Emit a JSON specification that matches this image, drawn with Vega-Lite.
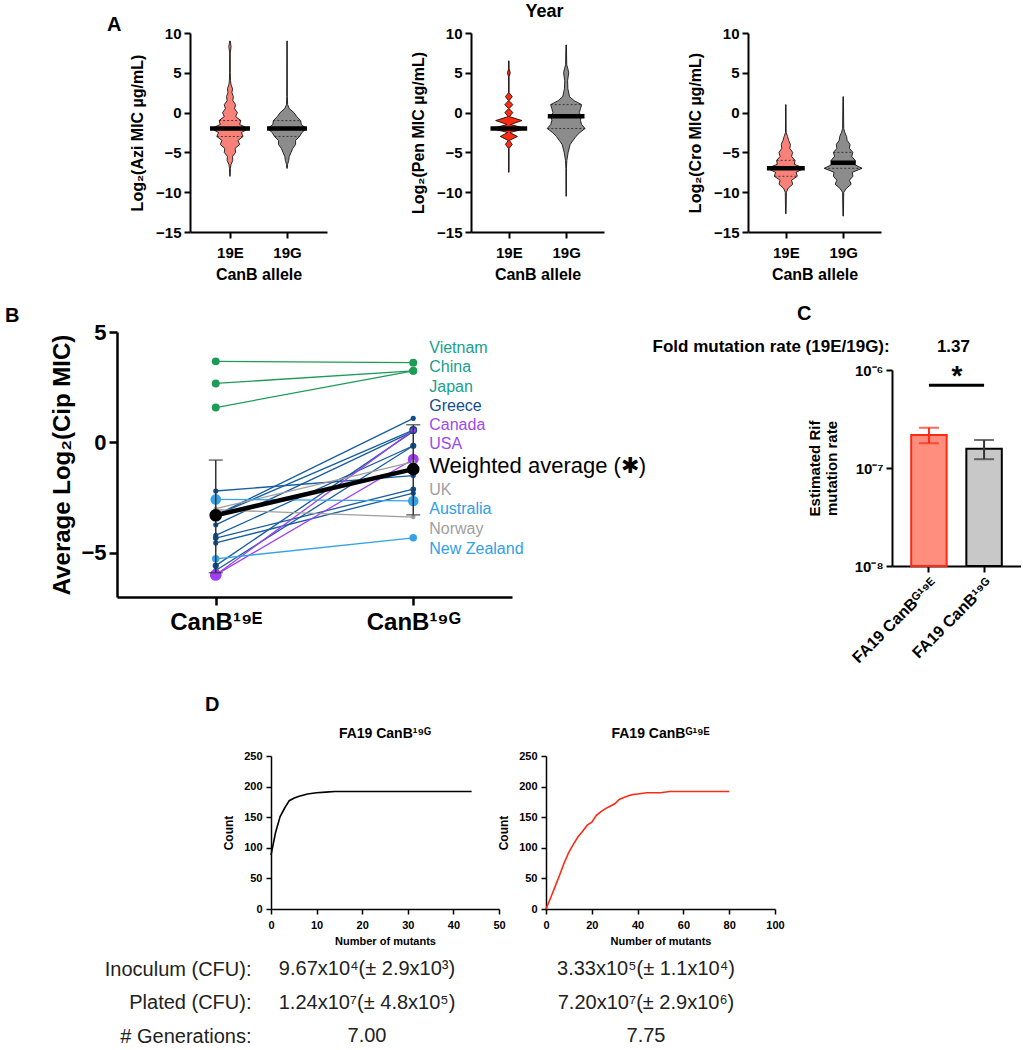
{
  "$schema": "https://vega.github.io/schema/vega-lite/v6.json",
  "background": "white",
  "padding": {"left": 5, "top": 3, "right": 0, "bottom": 0},
  "autosize": {"type": "pad"},
  "config": {
    "font": "Liberation Sans",
    "view": {"stroke": null},
    "axis": {"grid": false, "labelFontWeight": "bold", "titleFontWeight": "bold", "domainColor": "black", "tickColor": "black", "labelColor": "black", "titleColor": "black", "labelFlush": false, "labelOverlap": false, "labelFont": "Liberation Sans", "titleFont": "Liberation Sans"},
    "title": {"fontWeight": "bold", "color": "black", "font": "Liberation Sans"}
  },
  "datasets": {
    "violin": [
      {"p":"Azi","a":"19E","y":-8,"lo":-0.004,"hi":0.004},
      {"p":"Azi","a":"19E","y":-7,"lo":-0.008,"hi":0.008},
      {"p":"Azi","a":"19E","y":-6.5,"lo":-0.02,"hi":0.02},
      {"p":"Azi","a":"19E","y":-6,"lo":-0.05,"hi":0.05},
      {"p":"Azi","a":"19E","y":-5.5,"lo":-0.045,"hi":0.045},
      {"p":"Azi","a":"19E","y":-5,"lo":-0.1,"hi":0.1},
      {"p":"Azi","a":"19E","y":-4.5,"lo":-0.09,"hi":0.09},
      {"p":"Azi","a":"19E","y":-4,"lo":-0.17,"hi":0.17},
      {"p":"Azi","a":"19E","y":-3.5,"lo":-0.14,"hi":0.14},
      {"p":"Azi","a":"19E","y":-3,"lo":-0.23,"hi":0.23},
      {"p":"Azi","a":"19E","y":-2.5,"lo":-0.2,"hi":0.2},
      {"p":"Azi","a":"19E","y":-2,"lo":-0.33,"hi":0.33},
      {"p":"Azi","a":"19E","y":-1.5,"lo":-0.17,"hi":0.17},
      {"p":"Azi","a":"19E","y":-1,"lo":-0.19,"hi":0.19},
      {"p":"Azi","a":"19E","y":-0.5,"lo":-0.1,"hi":0.1},
      {"p":"Azi","a":"19E","y":0,"lo":-0.13,"hi":0.13},
      {"p":"Azi","a":"19E","y":0.5,"lo":-0.08,"hi":0.08},
      {"p":"Azi","a":"19E","y":1,"lo":-0.1,"hi":0.1},
      {"p":"Azi","a":"19E","y":1.5,"lo":-0.05,"hi":0.05},
      {"p":"Azi","a":"19E","y":2,"lo":-0.06,"hi":0.06},
      {"p":"Azi","a":"19E","y":2.5,"lo":-0.035,"hi":0.035},
      {"p":"Azi","a":"19E","y":3,"lo":-0.045,"hi":0.045},
      {"p":"Azi","a":"19E","y":3.5,"lo":-0.02,"hi":0.02},
      {"p":"Azi","a":"19E","y":4,"lo":-0.01,"hi":0.01},
      {"p":"Azi","a":"19E","y":5,"lo":-0.006,"hi":0.006},
      {"p":"Azi","a":"19E","y":7.5,"lo":-0.006,"hi":0.006},
      {"p":"Azi","a":"19E","y":8.3,"lo":-0.02,"hi":0.02},
      {"p":"Azi","a":"19E","y":9,"lo":-0.004,"hi":0.004},
      {"p":"Azi","a":"19G","y":-7,"lo":0.996,"hi":1.004},
      {"p":"Azi","a":"19G","y":-6.5,"lo":0.99,"hi":1.01},
      {"p":"Azi","a":"19G","y":-6,"lo":0.97,"hi":1.03},
      {"p":"Azi","a":"19G","y":-5.5,"lo":0.96,"hi":1.04},
      {"p":"Azi","a":"19G","y":-5,"lo":0.93,"hi":1.07},
      {"p":"Azi","a":"19G","y":-4.5,"lo":0.9,"hi":1.1},
      {"p":"Azi","a":"19G","y":-4,"lo":0.85,"hi":1.15},
      {"p":"Azi","a":"19G","y":-3.5,"lo":0.85,"hi":1.15},
      {"p":"Azi","a":"19G","y":-3,"lo":0.78,"hi":1.22},
      {"p":"Azi","a":"19G","y":-2.5,"lo":0.74,"hi":1.26},
      {"p":"Azi","a":"19G","y":-2,"lo":0.66,"hi":1.34},
      {"p":"Azi","a":"19G","y":-1.5,"lo":0.75,"hi":1.25},
      {"p":"Azi","a":"19G","y":-1,"lo":0.76,"hi":1.24},
      {"p":"Azi","a":"19G","y":-0.5,"lo":0.83,"hi":1.17},
      {"p":"Azi","a":"19G","y":0,"lo":0.88,"hi":1.12},
      {"p":"Azi","a":"19G","y":0.5,"lo":0.96,"hi":1.04},
      {"p":"Azi","a":"19G","y":1,"lo":0.99,"hi":1.01},
      {"p":"Azi","a":"19G","y":2,"lo":0.995,"hi":1.005},
      {"p":"Azi","a":"19G","y":9,"lo":0.996,"hi":1.004},
      {"p":"Pen","a":"19E","y":-7.5,"lo":-0.004,"hi":0.004},
      {"p":"Pen","a":"19E","y":-4.5,"lo":-0.005,"hi":0.005},
      {"p":"Pen","a":"19E","y":-4,"lo":-0.06,"hi":0.06},
      {"p":"Pen","a":"19E","y":-3.5,"lo":-0.01,"hi":0.01},
      {"p":"Pen","a":"19E","y":-3,"lo":-0.15,"hi":0.15},
      {"p":"Pen","a":"19E","y":-2.5,"lo":-0.02,"hi":0.02},
      {"p":"Pen","a":"19E","y":-2,"lo":-0.3,"hi":0.3},
      {"p":"Pen","a":"19E","y":-1.5,"lo":-0.03,"hi":0.03},
      {"p":"Pen","a":"19E","y":-1,"lo":-0.23,"hi":0.23},
      {"p":"Pen","a":"19E","y":-0.5,"lo":-0.01,"hi":0.01},
      {"p":"Pen","a":"19E","y":0,"lo":-0.07,"hi":0.07},
      {"p":"Pen","a":"19E","y":0.5,"lo":-0.005,"hi":0.005},
      {"p":"Pen","a":"19E","y":1,"lo":-0.07,"hi":0.07},
      {"p":"Pen","a":"19E","y":1.5,"lo":-0.005,"hi":0.005},
      {"p":"Pen","a":"19E","y":2,"lo":-0.06,"hi":0.06},
      {"p":"Pen","a":"19E","y":2.5,"lo":-0.005,"hi":0.005},
      {"p":"Pen","a":"19E","y":4.5,"lo":-0.005,"hi":0.005},
      {"p":"Pen","a":"19E","y":5,"lo":-0.025,"hi":0.025},
      {"p":"Pen","a":"19E","y":5.5,"lo":-0.005,"hi":0.005},
      {"p":"Pen","a":"19E","y":6.5,"lo":-0.004,"hi":0.004},
      {"p":"Pen","a":"19G","y":-10.5,"lo":0.996,"hi":1.004},
      {"p":"Pen","a":"19G","y":-7,"lo":0.995,"hi":1.005},
      {"p":"Pen","a":"19G","y":-6,"lo":0.988,"hi":1.012},
      {"p":"Pen","a":"19G","y":-5,"lo":0.965,"hi":1.035},
      {"p":"Pen","a":"19G","y":-4,"lo":0.93,"hi":1.07},
      {"p":"Pen","a":"19G","y":-3.5,"lo":0.88,"hi":1.12},
      {"p":"Pen","a":"19G","y":-3,"lo":0.83,"hi":1.17},
      {"p":"Pen","a":"19G","y":-2.5,"lo":0.76,"hi":1.24},
      {"p":"Pen","a":"19G","y":-2,"lo":0.67,"hi":1.33},
      {"p":"Pen","a":"19G","y":-1.5,"lo":0.73,"hi":1.27},
      {"p":"Pen","a":"19G","y":-1,"lo":0.75,"hi":1.25},
      {"p":"Pen","a":"19G","y":-0.5,"lo":0.74,"hi":1.26},
      {"p":"Pen","a":"19G","y":0,"lo":0.77,"hi":1.23},
      {"p":"Pen","a":"19G","y":0.5,"lo":0.75,"hi":1.25},
      {"p":"Pen","a":"19G","y":1,"lo":0.73,"hi":1.27},
      {"p":"Pen","a":"19G","y":1.5,"lo":0.86,"hi":1.14},
      {"p":"Pen","a":"19G","y":2,"lo":0.94,"hi":1.06},
      {"p":"Pen","a":"19G","y":3,"lo":0.97,"hi":1.03},
      {"p":"Pen","a":"19G","y":4,"lo":0.975,"hi":1.025},
      {"p":"Pen","a":"19G","y":5,"lo":0.955,"hi":1.045},
      {"p":"Pen","a":"19G","y":5.5,"lo":0.97,"hi":1.03},
      {"p":"Pen","a":"19G","y":6,"lo":0.99,"hi":1.01},
      {"p":"Pen","a":"19G","y":8.5,"lo":0.996,"hi":1.004},
      {"p":"Cro","a":"19E","y":-12.7,"lo":-0.004,"hi":0.004},
      {"p":"Cro","a":"19E","y":-10,"lo":-0.01,"hi":0.01},
      {"p":"Cro","a":"19E","y":-9.5,"lo":-0.04,"hi":0.04},
      {"p":"Cro","a":"19E","y":-9,"lo":-0.12,"hi":0.12},
      {"p":"Cro","a":"19E","y":-8.5,"lo":-0.1,"hi":0.1},
      {"p":"Cro","a":"19E","y":-8,"lo":-0.2,"hi":0.2},
      {"p":"Cro","a":"19E","y":-7.5,"lo":-0.18,"hi":0.18},
      {"p":"Cro","a":"19E","y":-7,"lo":-0.32,"hi":0.32},
      {"p":"Cro","a":"19E","y":-6.5,"lo":-0.15,"hi":0.15},
      {"p":"Cro","a":"19E","y":-6,"lo":-0.16,"hi":0.16},
      {"p":"Cro","a":"19E","y":-5.5,"lo":-0.1,"hi":0.1},
      {"p":"Cro","a":"19E","y":-5,"lo":-0.12,"hi":0.12},
      {"p":"Cro","a":"19E","y":-4.5,"lo":-0.07,"hi":0.07},
      {"p":"Cro","a":"19E","y":-4,"lo":-0.08,"hi":0.08},
      {"p":"Cro","a":"19E","y":-3.5,"lo":-0.05,"hi":0.05},
      {"p":"Cro","a":"19E","y":-3,"lo":-0.03,"hi":0.03},
      {"p":"Cro","a":"19E","y":-2.5,"lo":-0.006,"hi":0.006},
      {"p":"Cro","a":"19E","y":1,"lo":-0.004,"hi":0.004},
      {"p":"Cro","a":"19G","y":-13,"lo":0.996,"hi":1.004},
      {"p":"Cro","a":"19G","y":-10,"lo":0.99,"hi":1.01},
      {"p":"Cro","a":"19G","y":-9.5,"lo":0.94,"hi":1.06},
      {"p":"Cro","a":"19G","y":-9,"lo":0.86,"hi":1.14},
      {"p":"Cro","a":"19G","y":-8.5,"lo":0.89,"hi":1.11},
      {"p":"Cro","a":"19G","y":-8,"lo":0.83,"hi":1.17},
      {"p":"Cro","a":"19G","y":-7.5,"lo":0.84,"hi":1.16},
      {"p":"Cro","a":"19G","y":-7,"lo":0.67,"hi":1.33},
      {"p":"Cro","a":"19G","y":-6.5,"lo":0.81,"hi":1.19},
      {"p":"Cro","a":"19G","y":-6,"lo":0.79,"hi":1.21},
      {"p":"Cro","a":"19G","y":-5.5,"lo":0.85,"hi":1.15},
      {"p":"Cro","a":"19G","y":-5,"lo":0.83,"hi":1.17},
      {"p":"Cro","a":"19G","y":-4.5,"lo":0.89,"hi":1.11},
      {"p":"Cro","a":"19G","y":-4,"lo":0.88,"hi":1.12},
      {"p":"Cro","a":"19G","y":-3.5,"lo":0.93,"hi":1.07},
      {"p":"Cro","a":"19G","y":-3,"lo":0.94,"hi":1.06},
      {"p":"Cro","a":"19G","y":-2.5,"lo":0.97,"hi":1.03},
      {"p":"Cro","a":"19G","y":-2,"lo":0.99,"hi":1.01},
      {"p":"Cro","a":"19G","y":2,"lo":0.996,"hi":1.004}
    ],
    "stats": [
      {"p":"Azi","a":"19E","kind":"median","y":-2,"lo":-0.35,"hi":0.35},
      {"p":"Azi","a":"19E","kind":"q","y":-1,"lo":-0.19,"hi":0.19},
      {"p":"Azi","a":"19E","kind":"q","y":-3,"lo":-0.23,"hi":0.23},
      {"p":"Azi","a":"19G","kind":"median","y":-2,"lo":0.65,"hi":1.35},
      {"p":"Azi","a":"19G","kind":"q","y":-1,"lo":0.76,"hi":1.24},
      {"p":"Azi","a":"19G","kind":"q","y":-3,"lo":0.78,"hi":1.22},
      {"p":"Pen","a":"19E","kind":"median","y":-2,"lo":-0.32,"hi":0.32},
      {"p":"Pen","a":"19G","kind":"median","y":-0.45,"lo":0.68,"hi":1.32},
      {"p":"Pen","a":"19G","kind":"q","y":1,"lo":0.73,"hi":1.27},
      {"p":"Pen","a":"19G","kind":"q","y":-2,"lo":0.67,"hi":1.33},
      {"p":"Cro","a":"19E","kind":"median","y":-7,"lo":-0.33,"hi":0.33},
      {"p":"Cro","a":"19E","kind":"q","y":-6,"lo":-0.16,"hi":0.16},
      {"p":"Cro","a":"19E","kind":"q","y":-8,"lo":-0.2,"hi":0.2},
      {"p":"Cro","a":"19G","kind":"median","y":-6.3,"lo":0.78,"hi":1.22},
      {"p":"Cro","a":"19G","kind":"q","y":-5,"lo":0.83,"hi":1.17},
      {"p":"Cro","a":"19G","kind":"q","y":-7,"lo":0.67,"hi":1.33}
    ],
    "cip": [
      {"id":"a1","cluster":"Asia","allele":"CanB¹⁹ᴱ","value":3.67,"n":45},
      {"id":"a1","cluster":"Asia","allele":"CanB¹⁹ᴳ","value":3.61,"n":45},
      {"id":"a2","cluster":"Asia","allele":"CanB¹⁹ᴱ","value":2.67,"n":45},
      {"id":"a2","cluster":"Asia","allele":"CanB¹⁹ᴳ","value":3.24,"n":45},
      {"id":"a3","cluster":"Asia","allele":"CanB¹⁹ᴱ","value":1.58,"n":45},
      {"id":"a3","cluster":"Asia","allele":"CanB¹⁹ᴳ","value":3.24,"n":45},
      {"id":"e1","cluster":"Europe","allele":"CanB¹⁹ᴱ","value":-2.2,"n":15},
      {"id":"e1","cluster":"Europe","allele":"CanB¹⁹ᴳ","value":-1.5,"n":15},
      {"id":"e2","cluster":"Europe","allele":"CanB¹⁹ᴱ","value":-3.3,"n":15},
      {"id":"e2","cluster":"Europe","allele":"CanB¹⁹ᴳ","value":1.09,"n":15},
      {"id":"e3","cluster":"Europe","allele":"CanB¹⁹ᴱ","value":-3.3,"n":15},
      {"id":"e3","cluster":"Europe","allele":"CanB¹⁹ᴳ","value":0.56,"n":45},
      {"id":"e4","cluster":"Europe","allele":"CanB¹⁹ᴱ","value":-3.73,"n":15},
      {"id":"e4","cluster":"Europe","allele":"CanB¹⁹ᴳ","value":0.5,"n":15},
      {"id":"e5","cluster":"Europe","allele":"CanB¹⁹ᴱ","value":-4.21,"n":15},
      {"id":"e5","cluster":"Europe","allele":"CanB¹⁹ᴳ","value":-0.15,"n":25},
      {"id":"e6","cluster":"Europe","allele":"CanB¹⁹ᴱ","value":-4.33,"n":20},
      {"id":"e6","cluster":"Europe","allele":"CanB¹⁹ᴳ","value":-2.12,"n":20},
      {"id":"e7","cluster":"Europe","allele":"CanB¹⁹ᴱ","value":-4.55,"n":15},
      {"id":"e7","cluster":"Europe","allele":"CanB¹⁹ᴳ","value":-2.3,"n":15},
      {"id":"e8","cluster":"Europe","allele":"CanB¹⁹ᴱ","value":-5.58,"n":25},
      {"id":"e8","cluster":"Europe","allele":"CanB¹⁹ᴳ","value":0.5,"n":15},
      {"id":"e9","cluster":"Europe","allele":"CanB¹⁹ᴱ","value":-5.8,"n":15},
      {"id":"e9","cluster":"Europe","allele":"CanB¹⁹ᴳ","value":-0.15,"n":15},
      {"id":"p1","cluster":"North America","allele":"CanB¹⁹ᴱ","value":-6.0,"n":100},
      {"id":"p1","cluster":"North America","allele":"CanB¹⁹ᴳ","value":0.55,"n":15},
      {"id":"p2","cluster":"North America","allele":"CanB¹⁹ᴱ","value":-6.0,"n":100},
      {"id":"p2","cluster":"North America","allele":"CanB¹⁹ᴳ","value":-0.76,"n":90},
      {"id":"g1","cluster":"UK/Norway","allele":"CanB¹⁹ᴱ","value":-3.0,"n":10},
      {"id":"g1","cluster":"UK/Norway","allele":"CanB¹⁹ᴳ","value":-0.88,"n":10},
      {"id":"g2","cluster":"UK/Norway","allele":"CanB¹⁹ᴱ","value":-3.05,"n":10},
      {"id":"g2","cluster":"UK/Norway","allele":"CanB¹⁹ᴳ","value":-3.38,"n":10},
      {"id":"o1","cluster":"Oceania","allele":"CanB¹⁹ᴱ","value":-2.58,"n":85},
      {"id":"o1","cluster":"Oceania","allele":"CanB¹⁹ᴳ","value":-2.65,"n":85},
      {"id":"o2","cluster":"Oceania","allele":"CanB¹⁹ᴱ","value":-5.27,"n":40},
      {"id":"o2","cluster":"Oceania","allele":"CanB¹⁹ᴳ","value":-4.32,"n":40}
    ],
    "wavg": [
      {"allele":"CanB¹⁹ᴱ","value":-3.3,"lo":-5.9,"hi":-0.8},
      {"allele":"CanB¹⁹ᴳ","value":-1.21,"lo":-3.28,"hi":0.8}
    ],
    "cipLabels": [
      {"label":"Vietnam","cluster":"Asia","value":4.28},
      {"label":"China","cluster":"Asia","value":3.4},
      {"label":"Japan","cluster":"Asia","value":2.52},
      {"label":"Greece","cluster":"Europe","value":1.65},
      {"label":"Canada","cluster":"North America","value":0.77},
      {"label":"USA","cluster":"North America","value":-0.09},
      {"label":"Weighted average (✱)","cluster":"Weighted average","value":-1.08},
      {"label":"UK","cluster":"UK/Norway","value":-2.14},
      {"label":"Australia","cluster":"Oceania","value":-3.03},
      {"label":"Norway","cluster":"UK/Norway","value":-3.91},
      {"label":"New Zealand","cluster":"Oceania","value":-4.82}
    ],
    "rif": [
      {"allele":"19E","strain":"FA19 CanBᴳ¹⁹ᴱ","rate":2.17e-7,"lo":1.79e-7,"hi":2.57e-7},
      {"allele":"19G","strain":"FA19 CanB¹⁹ᴳ","rate":1.57e-7,"lo":1.23e-7,"hi":1.93e-7}
    ],
    "sig": [
      {"from":"FA19 CanBᴳ¹⁹ᴱ","to":"FA19 CanB¹⁹ᴳ","y":7e-7,"label":"*"}
    ],
    "mut19G": [
      {"mutants":0,"count":88},{"mutants":1,"count":125},{"mutants":2,"count":151},{"mutants":3,"count":165},
      {"mutants":4,"count":177},{"mutants":5,"count":181},{"mutants":6,"count":184},{"mutants":8,"count":188},
      {"mutants":10,"count":190},{"mutants":12,"count":191},{"mutants":14,"count":192},{"mutants":44,"count":192}
    ],
    "mut19E": [
      {"mutants":0,"count":0},{"mutants":2,"count":18},{"mutants":4,"count":37},{"mutants":6,"count":56},
      {"mutants":8,"count":76},{"mutants":10,"count":93},{"mutants":12,"count":106},{"mutants":14,"count":118},
      {"mutants":16,"count":127},{"mutants":18,"count":137},{"mutants":20,"count":142},{"mutants":22,"count":153},
      {"mutants":24,"count":159},{"mutants":26,"count":164},{"mutants":28,"count":168},{"mutants":30,"count":172},
      {"mutants":32,"count":179},{"mutants":34,"count":182},{"mutants":36,"count":185},{"mutants":38,"count":187},
      {"mutants":40,"count":188},{"mutants":44,"count":190},{"mutants":50,"count":190},{"mutants":54,"count":192},
      {"mutants":80,"count":192}
    ],
    "cfu": [
      {"metric":"Inoculum (CFU):","strain":"19G","value":"9.67x10⁴(± 2.9x10³)"},
      {"metric":"Plated (CFU):","strain":"19G","value":"1.24x10⁷(± 4.8x10⁵)"},
      {"metric":"# Generations:","strain":"19G","value":"7.00"},
      {"metric":"Inoculum (CFU):","strain":"19E","value":"3.33x10⁵(± 1.1x10⁴)"},
      {"metric":"Plated (CFU):","strain":"19E","value":"7.20x10⁷(± 2.9x10⁶)"},
      {"metric":"# Generations:","strain":"19E","value":"7.75"}
    ]
  },
  "spacing": 29,
  "bounds": "full",
  "vconcat": [
    {
      "spacing": 22,
      "bounds": "full",
      "vconcat": [
        {
          "spacing": 0,
          "bounds": "flush",
          "hconcat": [
            {"width": 73, "height": 10, "data": {"values": [{"s": 0}]}, "mark": {"type": "point", "opacity": 0}, "encoding": {},
             "title": {"text": "A", "fontSize": 20, "anchor": "start", "frame": "group", "dx": -10, "offset": -18, "baseline": "alphabetic"}},
            {
              "spacing": 144,
              "bounds": "flush",
              "hconcat": [
                {
                  "width": 137, "height": 199,
                  "encoding": {
                    "y": {"field": "y", "type": "quantitative", "scale": {"domain": [-15, 10], "nice": false, "zero": false}, "axis": {"values": [-15, -10, -5, 0, 5, 10], "title": "Log₂(Azi MIC µg/mL)", "titleFontSize": 16, "labelFontSize": 15, "titlePadding": 10, "labelPadding": 3, "tickSize": 6, "domainWidth": 2, "tickWidth": 2}},
                    "x": {"field": "lo", "type": "quantitative", "scale": {"domain": [-0.7, 1.7], "nice": false, "zero": false}, "axis": {"values": [0, 1], "labelExpr": "datum.value == 0 ? '19E' : '19G'", "title": "CanB allele", "titleFontSize": 16, "labelFontSize": 15, "labelPadding": 7, "titlePadding": 6, "tickSize": 6, "domainWidth": 2, "tickWidth": 2}},
                    "x2": {"field": "hi"}
                  },
                  "layer": [
                    {"data": {"name": "violin"}, "transform": [{"filter": "datum.p == 'Azi' && datum.a == '19E'"}], "mark": {"type": "area", "orient": "horizontal", "fill": "#F8827A", "fillOpacity": 1, "stroke": "black", "strokeWidth": 0.8}},
                    {"data": {"name": "violin"}, "transform": [{"filter": "datum.p == 'Azi' && datum.a == '19G'"}], "mark": {"type": "area", "orient": "horizontal", "fill": "#8C8C8C", "fillOpacity": 1, "stroke": "black", "strokeWidth": 0.8}},
                    {"data": {"name": "stats"}, "transform": [{"filter": "datum.p == 'Azi' && datum.kind == 'q'"}], "mark": {"type": "rule", "color": "#222", "strokeWidth": 0.8, "strokeDash": [2, 2]}},
                    {"data": {"name": "stats"}, "transform": [{"filter": "datum.p == 'Azi' && datum.kind == 'median'"}], "mark": {"type": "rule", "color": "black", "strokeWidth": 4.5}}
                  ]
                },
                {
                  "width": 133, "height": 199,
                  "title": {"text": "Year", "fontSize": 18, "anchor": "middle", "frame": "group", "dx": 7, "offset": -9, "baseline": "alphabetic"},
                  "encoding": {
                    "y": {"field": "y", "type": "quantitative", "scale": {"domain": [-15, 10], "nice": false, "zero": false}, "axis": {"values": [-15, -10, -5, 0, 5, 10], "title": "Log₂(Pen MIC µg/mL)", "titleFontSize": 16, "labelFontSize": 15, "titlePadding": 10, "labelPadding": 3, "tickSize": 6, "domainWidth": 2, "tickWidth": 2}},
                    "x": {"field": "lo", "type": "quantitative", "scale": {"domain": [-0.66, 1.66], "nice": false, "zero": false}, "axis": {"values": [0, 1], "labelExpr": "datum.value == 0 ? '19E' : '19G'", "title": "CanB allele", "titleFontSize": 16, "labelFontSize": 15, "labelPadding": 7, "titlePadding": 6, "tickSize": 6, "domainWidth": 2, "tickWidth": 2}},
                    "x2": {"field": "hi"}
                  },
                  "layer": [
                    {"data": {"name": "violin"}, "transform": [{"filter": "datum.p == 'Pen' && datum.a == '19E'"}], "mark": {"type": "area", "orient": "horizontal", "fill": "#FF2B12", "fillOpacity": 1, "stroke": "black", "strokeWidth": 0.8}},
                    {"data": {"name": "violin"}, "transform": [{"filter": "datum.p == 'Pen' && datum.a == '19G'"}], "mark": {"type": "area", "orient": "horizontal", "fill": "#8C8C8C", "fillOpacity": 1, "stroke": "black", "strokeWidth": 0.8}},
                    {"data": {"name": "stats"}, "transform": [{"filter": "datum.p == 'Pen' && datum.kind == 'q'"}], "mark": {"type": "rule", "color": "#222", "strokeWidth": 0.8, "strokeDash": [2, 2]}},
                    {"data": {"name": "stats"}, "transform": [{"filter": "datum.p == 'Pen' && datum.kind == 'median'"}], "mark": {"type": "rule", "color": "black", "strokeWidth": 4.5}}
                  ]
                },
                {
                  "width": 133, "height": 199,
                  "encoding": {
                    "y": {"field": "y", "type": "quantitative", "scale": {"domain": [-15, 10], "nice": false, "zero": false}, "axis": {"values": [-15, -10, -5, 0, 5, 10], "title": "Log₂(Cro MIC µg/mL)", "titleFontSize": 16, "labelFontSize": 15, "titlePadding": 10, "labelPadding": 3, "tickSize": 6, "domainWidth": 2, "tickWidth": 2}},
                    "x": {"field": "lo", "type": "quantitative", "scale": {"domain": [-0.66, 1.66], "nice": false, "zero": false}, "axis": {"values": [0, 1], "labelExpr": "datum.value == 0 ? '19E' : '19G'", "title": "CanB allele", "titleFontSize": 16, "labelFontSize": 15, "labelPadding": 7, "titlePadding": 6, "tickSize": 6, "domainWidth": 2, "tickWidth": 2}},
                    "x2": {"field": "hi"}
                  },
                  "layer": [
                    {"data": {"name": "violin"}, "transform": [{"filter": "datum.p == 'Cro' && datum.a == '19E'"}], "mark": {"type": "area", "orient": "horizontal", "fill": "#F8827A", "fillOpacity": 1, "stroke": "black", "strokeWidth": 0.8}},
                    {"data": {"name": "violin"}, "transform": [{"filter": "datum.p == 'Cro' && datum.a == '19G'"}], "mark": {"type": "area", "orient": "horizontal", "fill": "#8C8C8C", "fillOpacity": 1, "stroke": "black", "strokeWidth": 0.8}},
                    {"data": {"name": "stats"}, "transform": [{"filter": "datum.p == 'Cro' && datum.kind == 'q'"}], "mark": {"type": "rule", "color": "#222", "strokeWidth": 0.8, "strokeDash": [2, 2]}},
                    {"data": {"name": "stats"}, "transform": [{"filter": "datum.p == 'Cro' && datum.kind == 'median'"}], "mark": {"type": "rule", "color": "black", "strokeWidth": 4.5}}
                  ]
                }
              ]
            }
          ]
        },
        {
          "spacing": 380,
          "bounds": "flush",
          "hconcat": [
            {
              "width": 395, "height": 265,
              "title": {"text": "B", "fontSize": 20, "anchor": "start", "frame": "group", "dx": -112, "offset": -21, "baseline": "alphabetic"},
              "resolve": {"scale": {"color": "independent"}},
              "encoding": {
                "x": {"field": "allele", "type": "ordinal", "title": null, "scale": {"type": "point", "domain": ["CanB¹⁹ᴱ", "CanB¹⁹ᴳ"], "padding": 0.5}, "axis": {"title": null, "labelAngle": 0, "labelFontSize": 24, "labelPadding": 5, "tickSize": 8, "domainWidth": 2.5, "tickWidth": 2.5}},
                "y": {"field": "value", "type": "quantitative", "title": "Average Log₂(Cip MIC)", "scale": {"domain": [-7, 5], "nice": false, "zero": false}, "axis": {"values": [-5, 0, 5], "title": "Average Log₂(Cip MIC)", "titleFontSize": 24, "labelFontSize": 22, "titlePadding": 6, "labelPadding": 3, "tickSize": 8, "domainWidth": 2.5, "tickWidth": 2.5}}
              },
              "layer": [
                {"data": {"name": "cip"}, "mark": {"type": "line", "strokeWidth": 1.3},
                 "encoding": {"detail": {"field": "id"}, "color": {"field": "cluster", "type": "nominal", "scale": {"domain": ["Asia", "Europe", "North America", "UK/Norway", "Oceania"], "range": ["#1E9B57", "#175C9E", "#9F3FF2", "#9E9E9E", "#35A2E8"]}, "legend": null}}},
                {"data": {"name": "cip"}, "mark": {"type": "circle", "opacity": 1},
                 "encoding": {"color": {"field": "cluster", "type": "nominal", "scale": {"domain": ["Asia", "Europe", "North America", "UK/Norway", "Oceania"], "range": ["#1E9B57", "#0F4C88", "#9F3FF2", "#9E9E9E", "#35A2E8"]}, "legend": null},
                              "size": {"field": "n", "type": "quantitative", "scale": {"domain": [0, 100], "range": [8, 130]}, "legend": null}}},
                {"data": {"name": "wavg"}, "mark": {"type": "rule", "color": "#333", "strokeWidth": 1.5},
                 "encoding": {"y": {"field": "lo", "type": "quantitative", "title": "Average Log₂(Cip MIC)"}, "y2": {"field": "hi"}}},
                {"data": {"name": "wavg"}, "mark": {"type": "tick", "color": "#333", "size": 14, "thickness": 1.5},
                 "encoding": {"y": {"field": "lo", "type": "quantitative", "title": "Average Log₂(Cip MIC)"}}},
                {"data": {"name": "wavg"}, "mark": {"type": "tick", "color": "#333", "size": 14, "thickness": 1.5},
                 "encoding": {"y": {"field": "hi", "type": "quantitative", "title": "Average Log₂(Cip MIC)"}}},
                {"data": {"name": "wavg"}, "mark": {"type": "line", "color": "black", "strokeWidth": 4.5}},
                {"data": {"name": "wavg"}, "mark": {"type": "circle", "color": "black", "size": 160, "opacity": 1}},
                {"data": {"name": "cipLabels"}, "transform": [{"filter": "datum.cluster != 'Weighted average'"}],
                 "mark": {"type": "text", "align": "left", "baseline": "middle", "dx": 16, "fontSize": 16, "fontWeight": "normal"},
                 "encoding": {"x": {"datum": "CanB¹⁹ᴳ"}, "text": {"field": "label"},
                              "color": {"field": "cluster", "type": "nominal", "scale": {"domain": ["Asia", "Europe", "North America", "UK/Norway", "Oceania"], "range": ["#17A08E", "#104E90", "#A048F2", "#A0A0A0", "#30A0E8"]}, "legend": null}}},
                {"data": {"name": "cipLabels"}, "transform": [{"filter": "datum.cluster == 'Weighted average'"}],
                 "mark": {"type": "text", "align": "left", "baseline": "middle", "dx": 16, "fontSize": 22, "fontWeight": "normal", "color": "black"},
                 "encoding": {"x": {"datum": "CanB¹⁹ᴳ"}, "text": {"field": "label"}}}
              ]
            },
            {
              "spacing": 20,
              "bounds": "flush",
              "vconcat": [
                {"width": 129, "height": 18, "data": {"values": [{"s": 0}]}, "mark": {"type": "point", "opacity": 0}, "encoding": {},
                 "title": {"text": "C", "fontSize": 20, "anchor": "start", "frame": "group", "dx": -95, "offset": -8, "baseline": "alphabetic"}},
                {
                  "width": 129, "height": 196,
                  "title": {"text": "Fold mutation rate (19E/19G):\u00a0\u00a0\u00a0\u00a0\u00a0\u00a0\u00a0\u00a0\u00a0 1.37", "fontSize": 17, "anchor": "end", "frame": "group", "dx": -51, "offset": -6, "baseline": "alphabetic"},
                  "data": {"name": "rif"},
                  "encoding": {
                    "x": {"field": "strain", "type": "nominal", "title": null, "scale": {"domain": ["FA19 CanBᴳ¹⁹ᴱ", "FA19 CanB¹⁹ᴳ"], "paddingInner": 0.357, "paddingOuter": 0.348}, "axis": {"title": null, "labelAngle": -45, "labelFontSize": 16, "labelPadding": 3, "tickSize": 6, "domainWidth": 2, "tickWidth": 2}},
                    "y": {"field": "rate", "type": "quantitative", "title": ["Estimated Rif", "mutation rate"], "scale": {"type": "log", "domain": [1e-8, 1e-6], "nice": false}, "axis": {"values": [1e-8, 1e-7, 1e-6], "labelExpr": "datum.value < 5e-8 ? '10⁻⁸' : (datum.value < 5e-7 ? '10⁻⁷' : '10⁻⁶')", "title": ["Estimated Rif", "mutation rate"], "titleFontSize": 15, "labelFontSize": 15, "titlePadding": 15, "labelPadding": 3, "tickSize": 6, "domainWidth": 2, "tickWidth": 2}}
                  },
                  "layer": [
                    {"transform": [{"filter": "datum.allele == '19E'"}], "mark": {"type": "bar", "fill": "#FF8E7E", "stroke": "#FF2A12", "strokeWidth": 2}, "encoding": {"y2": {"datum": 1e-8}}},
                    {"transform": [{"filter": "datum.allele == '19G'"}], "mark": {"type": "bar", "fill": "#C8C8C8", "stroke": "black", "strokeWidth": 2}, "encoding": {"y2": {"datum": 1e-8}}},
                    {"transform": [{"filter": "datum.allele == '19E'"}], "mark": {"type": "rule", "color": "#FF2A12", "strokeWidth": 2}, "encoding": {"y": {"field": "lo", "type": "quantitative", "title": ["Estimated Rif", "mutation rate"]}, "y2": {"field": "hi"}}},
                    {"transform": [{"filter": "datum.allele == '19E'"}], "mark": {"type": "tick", "color": "#FF2A12", "size": 20, "thickness": 2}, "encoding": {"y": {"field": "lo", "type": "quantitative", "title": ["Estimated Rif", "mutation rate"]}}},
                    {"transform": [{"filter": "datum.allele == '19E'"}], "mark": {"type": "tick", "color": "#FF2A12", "size": 20, "thickness": 2}, "encoding": {"y": {"field": "hi", "type": "quantitative", "title": ["Estimated Rif", "mutation rate"]}}},
                    {"transform": [{"filter": "datum.allele == '19G'"}], "mark": {"type": "rule", "color": "#333", "strokeWidth": 2}, "encoding": {"y": {"field": "lo", "type": "quantitative", "title": ["Estimated Rif", "mutation rate"]}, "y2": {"field": "hi"}}},
                    {"transform": [{"filter": "datum.allele == '19G'"}], "mark": {"type": "tick", "color": "#333", "size": 20, "thickness": 2}, "encoding": {"y": {"field": "lo", "type": "quantitative", "title": ["Estimated Rif", "mutation rate"]}}},
                    {"transform": [{"filter": "datum.allele == '19G'"}], "mark": {"type": "tick", "color": "#333", "size": 20, "thickness": 2}, "encoding": {"y": {"field": "hi", "type": "quantitative", "title": ["Estimated Rif", "mutation rate"]}}},
                    {"data": {"name": "sig"}, "mark": {"type": "rule", "color": "black", "strokeWidth": 3},
                     "encoding": {"x": {"field": "from", "type": "nominal", "title": null}, "x2": {"field": "to"}, "y": {"field": "y", "type": "quantitative", "title": ["Estimated Rif", "mutation rate"]}}},
                    {"data": {"name": "sig"}, "mark": {"type": "text", "fontSize": 28, "fontWeight": "bold", "baseline": "alphabetic", "dx": 28, "color": "black"},
                     "encoding": {"x": {"field": "from", "type": "nominal", "title": null}, "y": {"field": "y", "type": "quantitative", "title": ["Estimated Rif", "mutation rate"]}, "text": {"field": "label"}}}
                  ]
                }
              ]
            }
          ]
        }
      ]
    },
    {
      "spacing": 13,
      "bounds": "full",
      "vconcat": [
        {
          "spacing": 47,
          "bounds": "flush",
          "hconcat": [
            {"width": 107, "height": 10, "data": {"values": [{"s": 0}]}, "mark": {"type": "point", "opacity": 0}, "encoding": {},
             "title": {"text": "D", "fontSize": 20, "anchor": "start", "frame": "group", "dx": 88, "offset": 25, "baseline": "alphabetic"}},
            {
              "width": 228, "height": 153,
              "title": {"text": "FA19 CanB¹⁹ᴳ", "fontSize": 14, "anchor": "middle", "frame": "group", "offset": -2, "baseline": "alphabetic"},
              "data": {"name": "mut19G"},
              "mark": {"type": "line", "color": "black", "strokeWidth": 1.6},
              "encoding": {
                "x": {"field": "mutants", "type": "quantitative", "scale": {"domain": [0, 50], "nice": false}, "axis": {"values": [0, 10, 20, 30, 40, 50], "title": "Number of mutants", "labelFontSize": 11, "titleFontSize": 11, "tickSize": 5, "labelPadding": 5, "titlePadding": 5, "domainWidth": 1.5, "tickWidth": 1.5}},
                "y": {"field": "count", "type": "quantitative", "scale": {"domain": [0, 250], "nice": false}, "axis": {"values": [0, 50, 100, 150, 200, 250], "title": "Count", "labelFontSize": 11, "titleFontSize": 12, "tickSize": 5, "labelPadding": 4, "titlePadding": 8, "domainWidth": 1.5, "tickWidth": 1.5}}
              }
            },
            {
              "width": 229, "height": 153,
              "title": {"text": "FA19 CanBᴳ¹⁹ᴱ", "fontSize": 14, "anchor": "middle", "frame": "group", "offset": -2, "baseline": "alphabetic"},
              "data": {"name": "mut19E"},
              "mark": {"type": "line", "color": "#FF2A12", "strokeWidth": 1.6},
              "encoding": {
                "x": {"field": "mutants", "type": "quantitative", "scale": {"domain": [0, 100], "nice": false}, "axis": {"values": [0, 20, 40, 60, 80, 100], "title": "Number of mutants", "labelFontSize": 11, "titleFontSize": 11, "tickSize": 5, "labelPadding": 5, "titlePadding": 5, "domainWidth": 1.5, "tickWidth": 1.5}},
                "y": {"field": "count", "type": "quantitative", "scale": {"domain": [0, 250], "nice": false}, "axis": {"values": [0, 50, 100, 150, 200, 250], "title": "Count", "labelFontSize": 11, "titleFontSize": 12, "tickSize": 5, "labelPadding": 4, "titlePadding": 8, "domainWidth": 1.5, "tickWidth": 1.5}}
              }
            }
          ]
        },
        {
          "spacing": 20,
          "bounds": "flush",
          "hconcat": [
            {"width": 123, "height": 10, "data": {"values": [{"s": 0}]}, "mark": {"type": "point", "opacity": 0}, "encoding": {}},
            {
              "width": 493, "height": 67,
              "data": {"name": "cfu"},
              "mark": {"type": "text", "fontSize": 20, "fontWeight": "normal", "color": "#222"},
              "encoding": {
                "x": {"field": "strain", "type": "ordinal", "scale": {"type": "point", "domain": ["19G", "19E"], "padding": 0.3835}, "axis": null},
                "y": {"field": "metric", "type": "ordinal", "scale": {"type": "point", "domain": ["Inoculum (CFU):", "Plated (CFU):", "# Generations:"], "padding": 0}, "axis": {"title": null, "domain": false, "ticks": false, "labelFontSize": 20, "labelFontWeight": "normal", "labelColor": "#222", "labelPadding": 9}},
                "text": {"field": "value"}
              }
            }
          ]
        }
      ]
    }
  ]
}
